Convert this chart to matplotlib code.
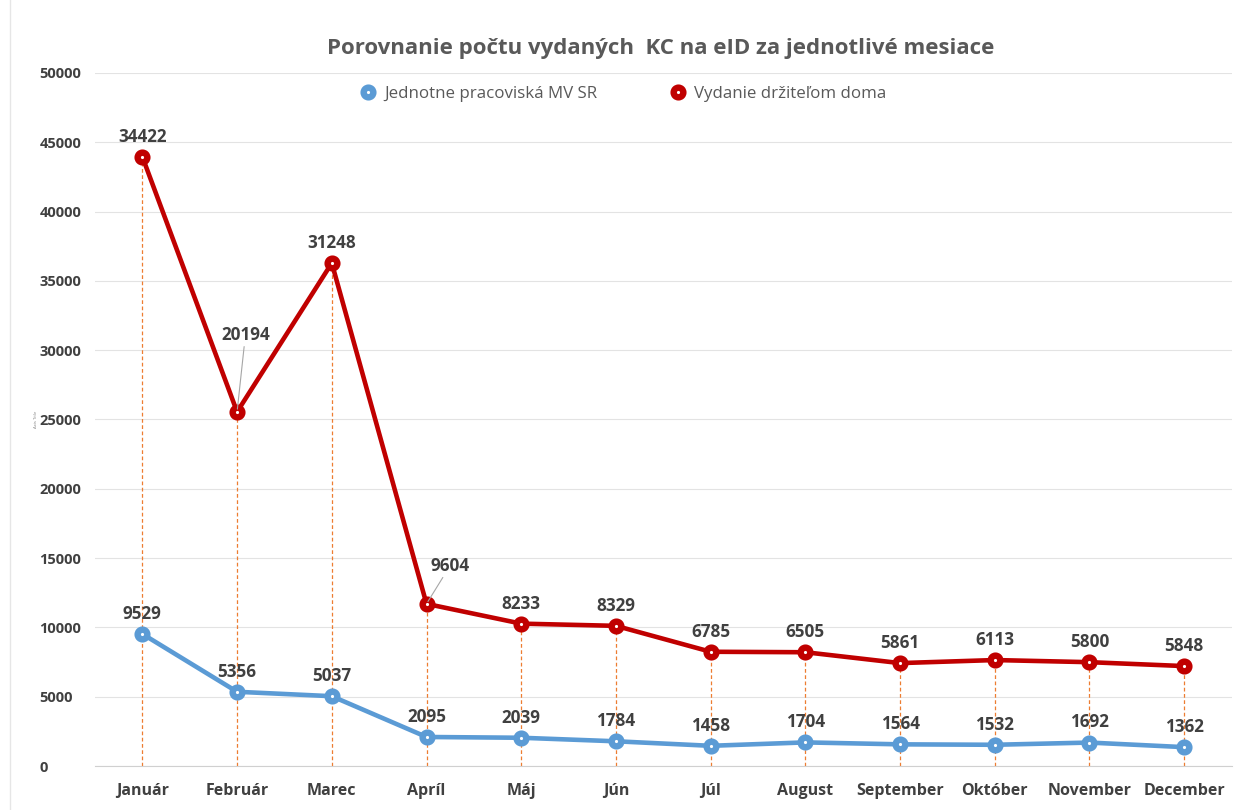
import matplotlib
matplotlib.use("Agg")
import matplotlib.pyplot as plt
import numpy as np

mesiace = ["Január", "Február", "Marec", "Apríl", "Máj", "Jún", "Júl",
           "August", "September", "Október", "November", "December"]
pracoviska = [9529, 5356, 5037, 2095, 2039, 1784, 1458, 1704, 1564, 1532, 1692, 1362]
doma = [34422, 20194, 31248, 9604, 8233, 8329, 6785, 6505, 5861, 6113, 5800, 5848]

plt.rcParams['font.family'] = ['Open Sans', 'DejaVu Sans']

modra = "#5B9BD5"
cervena = "#C00000"
text_c = "#404040"

fig = plt.figure(figsize=(12.34, 8.10), dpi=100)
ax = fig.add_axes([0.077, 0.0543, 0.921, 0.8556])

x = np.arange(len(mesiace))
spodna = np.array(pracoviska)
horna = spodna + np.array(doma)  # skladany graf

# zvisle ciary od bodu k osi
ax.vlines(x, 0, horna, colors="#ED7D31", linestyles=(0, (3, 2)), lw=0.9, zorder=1)

ax.plot(x, spodna, color=modra, lw=3.3, marker="o", ms=7, mfc="white",
        mec=modra, mew=4.6, zorder=3, label="Jednotne pracoviská MV SR")
ax.plot(x, horna, color=cervena, lw=3.3, marker="o", ms=7, mfc="white",
        mec=cervena, mew=4.6, zorder=3, label="Vydanie držiteľom doma")

lbl = dict(ha="center", va="bottom", fontsize=12.3, fontweight="bold", color=text_c)
for i in range(len(x)):
    ax.annotate(str(pracoviska[i]), (x[i], spodna[i]), xytext=(0, 8),
                textcoords="offset points", **lbl)
    if i == 1:
        ax.annotate(str(doma[i]), (x[i], horna[i]), xytext=(6, 49),
                    textcoords="offset points",
                    arrowprops=dict(arrowstyle="-", color="#A6A6A6", lw=0.8,
                                    shrinkA=0, shrinkB=2), **lbl)
    elif i == 3:
        ax.annotate(str(doma[i]), (x[i], horna[i]), xytext=(17, 21),
                    textcoords="offset points",
                    arrowprops=dict(arrowstyle="-", color="#A6A6A6", lw=0.8,
                                    shrinkA=0, shrinkB=2), **lbl)
    else:
        ax.annotate(str(doma[i]), (x[i], horna[i]), xytext=(0, 8),
                    textcoords="offset points", **lbl)

ax.set_xlim(-0.5, len(x) - 0.5)
ax.set_ylim(0, 50000)
ax.set_yticks(np.arange(0, 50001, 5000))
ax.set_xticks(x)
ax.set_xticklabels(mesiace)
ax.tick_params(axis="x", length=0, labelsize=11.5, labelcolor=text_c, pad=12)
ax.tick_params(axis="y", length=0, labelsize=10.5, labelcolor=text_c, pad=40)
for t in ax.get_xticklabels() + ax.get_yticklabels():
    t.set_fontweight("bold")
for t in ax.get_yticklabels():
    t.set_ha("left")

ax.grid(axis="y", color="#E3E3E3", lw=0.8)
ax.set_axisbelow(True)
for s in ["top", "right", "left"]:
    ax.spines[s].set_visible(False)
ax.spines["bottom"].set_color("#D0D0D0")

ax.set_ylabel("Axis Title", fontsize=3, color="#808080")
ax.yaxis.set_label_coords(-0.05, 0.5)

fig.text(0.535, 0.94, "Porovnanie počtu vydaných  KC na eID za jednotlivé mesiace",
         ha="center", va="center", fontsize=16, fontweight="bold", color="#595959")

leg = ax.legend(loc="upper center", bbox_to_anchor=(0.465, 1.003), ncol=2, frameon=False,
                fontsize=12.2, columnspacing=4.3, handlelength=0.9, handletextpad=0.5,
                labelcolor="#595959")
for h in leg.legend_handles:
    h.set_linestyle("None")
    h.set_markersize(7)

# ram grafu vlavo
fig.add_artist(plt.Line2D([0.008, 0.008], [0, 1], color="#E6E6E6", lw=1))

fig.savefig("out.png", dpi=100)
